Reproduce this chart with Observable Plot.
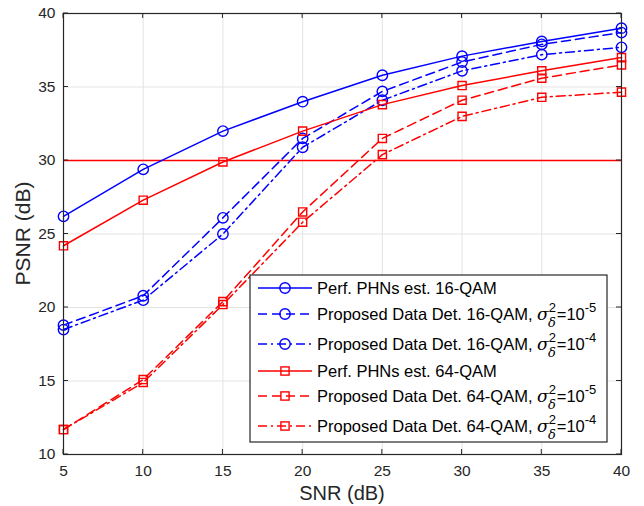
<!DOCTYPE html>
<html>
<head>
<meta charset="utf-8">
<script src="https://cdn.jsdelivr.net/npm/d3@7"></script>
<script src="https://cdn.jsdelivr.net/npm/@observablehq/plot@0.6"></script>
<style>
  html, body { margin: 0; padding: 0; background: #fff; }
  #chart { width: 644px; height: 506px; }
  svg { font-family: "Liberation Sans", Arial, sans-serif; }
</style>
</head>
<body>
<div id="chart"></div>
<script>
// ---- data ----
const snr = [5, 10, 15, 20, 25, 30, 35, 40];
const perf16   = [26.2, 29.4, 32.0, 34.0, 35.8, 37.1, 38.1, 39.0];
const prop16e5 = [18.8, 20.8, 26.1, 31.5, 34.7, 36.7, 37.9, 38.7];
const prop16e4 = [18.5, 20.5, 25.0, 30.9, 34.1, 36.1, 37.2, 37.7];
const perf64   = [24.2, 27.3, 29.9, 32.0, 33.8, 35.1, 36.1, 37.0];
const prop64e5 = [11.7, 15.1, 20.4, 26.5, 31.5, 34.1, 35.6, 36.5];
const prop64e4 = [11.7, 14.9, 20.2, 25.8, 30.4, 33.0, 34.3, 34.65];
const threshold = [30];
const xTicks = [5, 10, 15, 20, 25, 30, 35, 40];
const yTicks = [10, 15, 20, 25, 30, 35, 40];

const seriesDefs = [
  {values: perf16,   color: "#0000ff", dash: null,        symbol: "circle", label: "Perf. PHNs est. 16-QAM", exp: null},
  {values: prop16e5, color: "#0000ff", dash: "9,5",       symbol: "circle", label: "Proposed Data Det. 16-QAM, ", exp: "-5"},
  {values: prop16e4, color: "#0000ff", dash: "9,4,2,4",   symbol: "circle", label: "Proposed Data Det. 16-QAM, ", exp: "-4"},
  {values: perf64,   color: "#ff0000", dash: null,        symbol: "square", label: "Perf. PHNs est. 64-QAM", exp: null},
  {values: prop64e5, color: "#ff0000", dash: "9,5",       symbol: "square", label: "Proposed Data Det. 64-QAM, ", exp: "-5"},
  {values: prop64e4, color: "#ff0000", dash: "9,4,2,4",   symbol: "square", label: "Proposed Data Det. 64-QAM, ", exp: "-4"}
];

const marks = [
  Plot.gridX(xTicks, {stroke: "#e3e3e3", strokeOpacity: 1, strokeWidth: 1}),
  Plot.gridY(yTicks, {stroke: "#e3e3e3", strokeOpacity: 1, strokeWidth: 1}),
  Plot.ruleY(threshold, {stroke: "#ff0000", strokeWidth: 1.5}),
];
for (const s of seriesDefs) {
  const rows = snr.map((x, i) => ({x, y: s.values[i]}));
  marks.push(Plot.line(rows, {x: "x", y: "y", stroke: s.color, strokeWidth: 1.5,
    strokeDasharray: s.dash || undefined}));
  marks.push(Plot.dot(rows, {x: "x", y: "y", stroke: s.color, fill: "none", strokeWidth: 1.4,
    symbol: s.symbol, r: s.symbol === "circle" ? 5.2 : 4.6}));
}
marks.push(
  Plot.axisX(xTicks, {anchor: "bottom", tickSize: 0, tickPadding: 10, fontSize: 15.5, fill: "#262626",
    label: null}),
  Plot.axisY(yTicks, {anchor: "left", tickSize: 0, tickPadding: 8, fontSize: 15.5, fill: "#262626",
    label: null}),
  Plot.frame({stroke: "#262626", strokeWidth: 1.2})
);

const chart = Plot.plot({
  width: 644,
  height: 506,
  marginLeft: 63,
  marginRight: 23,
  marginTop: 13,
  marginBottom: 52,
  x: {domain: [5, 40]},
  y: {domain: [10, 40]},
  style: {fontFamily: '"Liberation Sans", Arial, sans-serif', background: "#fff"},
  marks
});

document.getElementById("chart").appendChild(chart);

const svg = d3.select(chart);
const xs = chart.scale("x"), ys = chart.scale("y");
const x0 = xs.range[0], x1 = xs.range[1], y0 = ys.range[0], y1 = ys.range[1];
const tickLen = 5;
const tg = svg.append("g").attr("stroke", "#262626").attr("stroke-width", 1);
for (const t of xTicks) {
  const px = xs.apply(t);
  tg.append("line").attr("x1", px).attr("x2", px).attr("y1", y0).attr("y2", y0 - tickLen);
  tg.append("line").attr("x1", px).attr("x2", px).attr("y1", y1).attr("y2", y1 + tickLen);
}
for (const t of yTicks) {
  const py = ys.apply(t);
  tg.append("line").attr("y1", py).attr("y2", py).attr("x1", x0).attr("x2", x0 + tickLen);
  tg.append("line").attr("y1", py).attr("y2", py).attr("x1", x1).attr("x2", x1 - tickLen);
}

// axis titles
svg.append("text").attr("x", (x0 + x1) / 2).attr("y", 500)
  .attr("text-anchor", "middle").attr("font-size", 20).attr("fill", "#262626").text("SNR (dB)");
svg.append("text").attr("transform", `translate(30,${(y0 + y1) / 2}) rotate(-90)`)
  .attr("text-anchor", "middle").attr("font-size", 21).attr("fill", "#262626").text("PSNR (dB)");

// legend
const lg = svg.append("g").attr("text-anchor", "start");
const lx = 250, ly = 275, lw = 357, lh = 167;
lg.append("rect").attr("x", lx).attr("y", ly).attr("width", lw).attr("height", lh)
  .attr("fill", "#fff").attr("stroke", "#262626").attr("stroke-width", 1.2);
const rowsY = [288, 314, 344, 371, 396, 426];
const serif = '"DejaVu Serif", "Liberation Serif", serif';
seriesDefs.forEach((s, i) => {
  const cy = rowsY[i];
  lg.append("line").attr("x1", lx + 8).attr("x2", lx + 62).attr("y1", cy).attr("y2", cy)
    .attr("stroke", s.color).attr("stroke-width", 1.5).attr("stroke-dasharray", s.dash || null);
  const mx = lx + 35;
  if (s.symbol === "circle") {
    lg.append("circle").attr("cx", mx).attr("cy", cy).attr("r", 5.2)
      .attr("fill", "none").attr("stroke", s.color).attr("stroke-width", 1.4);
  } else {
    lg.append("rect").attr("x", mx - 4.1).attr("y", cy - 4.1).attr("width", 8.2).attr("height", 8.2)
      .attr("fill", "none").attr("stroke", s.color).attr("stroke-width", 1.4);
  }
  const t = lg.append("text").attr("x", lx + 67).attr("y", cy + 6).attr("text-anchor", "start")
    .attr("font-size", 16.5).attr("fill", "#000");
  t.append("tspan").text(s.label);
  if (s.exp) {
    t.append("tspan").attr("font-style", "italic").attr("font-family", serif).attr("font-size", 17).text("σ");
    t.append("tspan").attr("font-size", 13).attr("dy", -8).text("2");
    t.append("tspan").attr("font-size", 13).attr("dx", -8).attr("dy", 15).attr("font-style", "italic")
      .attr("font-family", serif).text("δ");
    t.append("tspan").attr("dy", -7).attr("dx", 1).text("=10");
    t.append("tspan").attr("font-size", 13).attr("dy", -8).text(s.exp);
  }
});
</script>
</body>
</html>
